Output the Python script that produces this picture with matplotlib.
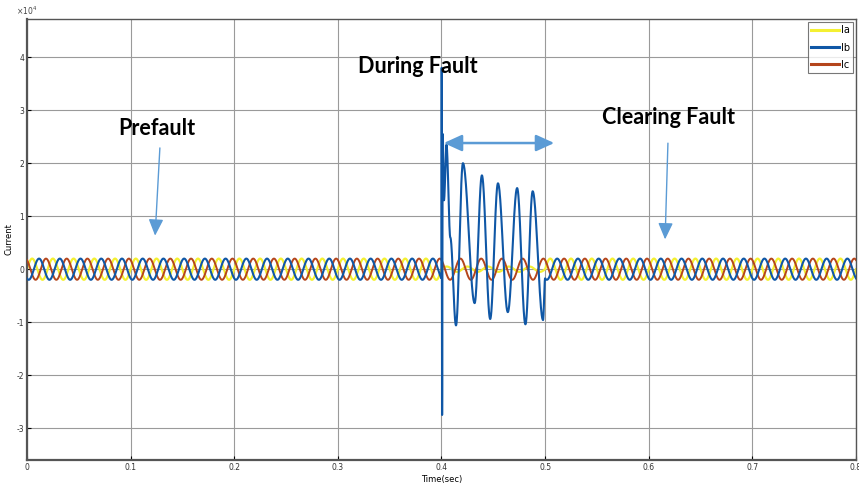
import numpy as np
import matplotlib
matplotlib.use("Agg")
import matplotlib.pyplot as plt

plt.rcParams["axes.unicode_minus"] = False

# steady-state waveform (values in x10^4 A)
freq_hz = 50.0
amp_normal = 0.20          # Ia, Ib, Ic amplitude outside the fault
amp_ia_fault = 0.05        # Ia during the fault window
phase_deg = {"Ia": 0.0, "Ib": -120.0, "Ic": 120.0}
fault_start, fault_end = 0.40, 0.50

# Ib extrema during the fault (time s, current x10^4 A)
ib_fault_t = [0.4002, 0.4006, 0.4012, 0.4024, 0.4048, 0.4085, 0.4140, 0.4207,
              0.4320, 0.4390, 0.4470, 0.4545, 0.4640, 0.4730, 0.4810, 0.4880, 0.4980]
ib_fault_v = [3.80, -2.75, 2.55, 1.30, 2.35, 0.60, -1.06, 2.00,
              -0.64, 1.77, -0.94, 1.62, -0.81, 1.53, -1.04, 1.47, -0.96]

t = np.linspace(0, 0.8, 8001)


def sine(name, tt, amp):
    return amp * np.sin(2 * np.pi * freq_hz * tt + np.radians(phase_deg[name]))


ia = sine("Ia", t, amp_normal)
ic = sine("Ic", t, amp_normal)
ib = sine("Ib", t, amp_normal)
inside = (t >= fault_start) & (t <= fault_end)
ia[inside] = sine("Ia", t[inside], amp_ia_fault)

# Ib during the fault: join the read extrema with half-cosine segments
kt = [fault_start] + ib_fault_t + [fault_end]
kv = [sine("Ib", fault_start, amp_normal)] + ib_fault_v + [sine("Ib", fault_end, amp_normal)]
seg_t, seg_v = [], []
for i in range(len(kt) - 1):
    s = np.linspace(0, 1, 40)
    seg_t.append(kt[i] + (kt[i + 1] - kt[i]) * s)
    seg_v.append(kv[i] + (kv[i + 1] - kv[i]) * (1 - np.cos(np.pi * s)) / 2)
seg_t = np.concatenate(seg_t)
seg_v = np.concatenate(seg_v)
pre = t < fault_start
post = t > fault_end
ib_t = np.concatenate([t[pre], seg_t, t[post]])
ib_v = np.concatenate([ib[pre], seg_v, ib[post]])

fig = plt.figure(figsize=(8.59, 4.87), dpi=100)
ax = fig.add_axes([0.0314, 0.0554, 0.9651, 0.9056])

c_a, c_b, c_c = "#f4f032", "#0f57a6", "#b4451c"
l_a, = ax.plot(t, ia, color=c_a, lw=1.6, label="Ia", zorder=2)
l_c, = ax.plot(t, ic, color=c_c, lw=1.4, label="Ic", zorder=3)
l_b, = ax.plot(ib_t, ib_v, color=c_b, lw=1.5, label="Ib", zorder=4)

ax.set_xlim(0, 0.8)
ax.set_ylim(-3.6, 4.72)
ax.set_xticks(np.arange(0, 0.81, 0.1))
ax.set_xticklabels(["0", "0.1", "0.2", "0.3", "0.4", "0.5", "0.6", "0.7", "0.8"])
ax.set_yticks(range(-3, 5))
ax.tick_params(labelsize=5.5, labelcolor="#333333", length=3, direction="in", pad=2)
ax.grid(True, color="#9a9a9a", lw=0.8)
for sp in ax.spines.values():
    sp.set_color("#555555")
    sp.set_linewidth(1.0)
ax.spines["left"].set_linewidth(1.6)
ax.spines["bottom"].set_linewidth(1.6)

ax.set_xlabel("Time(sec)", fontsize=6, labelpad=2)
ax.set_ylabel("Current", fontsize=6, labelpad=1)
ax.yaxis.set_label_coords(-0.016, 0.5)
ax.text(0.0, 1.005, "\u00d710$^4$", transform=ax.transAxes, fontsize=5.5,
        color="#444444", ha="center", va="bottom")

leg = ax.legend(handles=[l_a, l_b, l_c], loc="upper right", fontsize=7,
                frameon=True, fancybox=False, edgecolor="#555555",
                borderaxespad=0.3, handlelength=2.8, labelspacing=0.75,
                borderpad=0.35, handletextpad=0.2)
leg.get_frame().set_linewidth(0.8)
for line in leg.get_lines():
    line.set_linewidth(2.2)

font = ["Lato", "DejaVu Sans"]
ax.text(0.1255, 2.66, "Prefault", fontsize=15.5, fontweight="bold",
        family=font, ha="center", va="center", zorder=6)
ax.text(0.377, 3.83, "During Fault", fontsize=15.5, fontweight="bold",
        family=font, ha="center", va="center", zorder=6)
ax.text(0.6186, 2.87, "Clearing Fault", fontsize=15.5, fontweight="bold",
        family=font, ha="center", va="center", zorder=6)

arrow_c = "#5b9bd5"
ax.annotate("", xy=(0.1235, 0.58), xytext=(0.1284, 2.34),
            arrowprops=dict(arrowstyle="-|>,head_length=1.0,head_width=0.45",
                            color=arrow_c, lw=1.0), zorder=7)
ax.annotate("", xy=(0.6157, 0.51), xytext=(0.6186, 2.43),
            arrowprops=dict(arrowstyle="-|>,head_length=1.0,head_width=0.45",
                            color=arrow_c, lw=1.0), zorder=7)
ax.annotate("", xy=(0.5115, 2.38), xytext=(0.3995, 2.38),
            arrowprops=dict(arrowstyle="<|-|>,head_length=1.1,head_width=0.5",
                            color=arrow_c, lw=1.8), zorder=7)

fig.savefig("out.png", dpi=100)
